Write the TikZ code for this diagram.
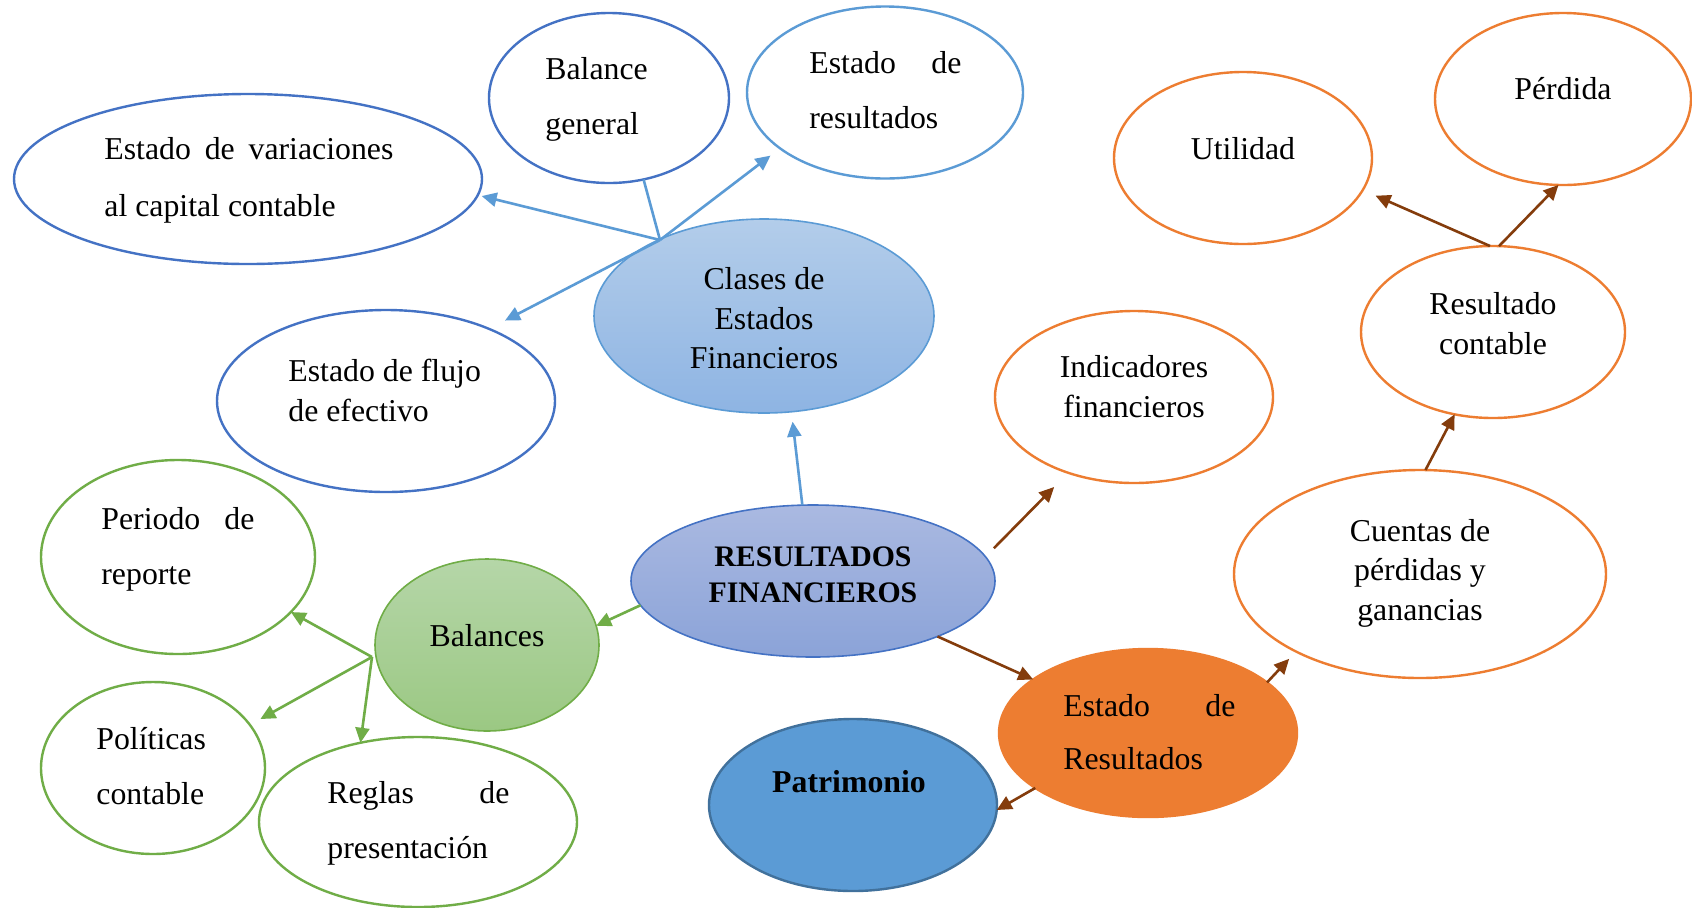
\documentclass[tikz,border=0pt]{standalone}
\usepackage{fontspec}
\setmainfont{Liberation Serif}
\usetikzlibrary{shapes.geometric,arrows.meta}
\definecolor{dblue}{HTML}{4472C4}
\definecolor{lblue}{HTML}{5B9BD5}
\definecolor{lgreen}{HTML}{70AD47}
\definecolor{orng}{HTML}{ED7D31}
\definecolor{brwn}{HTML}{843C0C}
\definecolor{pblue}{HTML}{41719C}
\definecolor{claT}{HTML}{B3CDEA}
\definecolor{claB}{HTML}{8EB4E3}
\definecolor{resT}{HTML}{AAB9E1}
\definecolor{resB}{HTML}{8BA3D8}
\definecolor{balT}{HTML}{B5D6A8}
\definecolor{balB}{HTML}{9BC883}
\begin{document}
\begin{tikzpicture}[x=0.5pt,y=-0.5pt,
 ov/.style={ellipse, inner sep=0, outer sep=0, line width=1.2pt},
 txt/.style={inner sep=0, font=\fontsize{15.9}{19}\selectfont, yshift=-3.3pt},
 btxt/.style={inner sep=0, font=\fontsize{15.9}{19}\selectfont\bfseries, yshift=-3.3pt},
 arr/.style={line width=1.3pt, -{Triangle[length=7.5pt,width=7pt]}},
]
\useasboundingbox (0,0) rectangle (1692,907);
\fill[white] (0,0) rectangle (1692,907);

% ellipses
\node[ov, draw=dblue, minimum width=234pt, minimum height=85pt] (var) at (248,179) {};
\node[ov, draw=dblue, minimum width=120pt, minimum height=85pt] (bal) at (609,98) {};
\node[ov, draw=lblue, minimum width=138pt, minimum height=86pt] (er1) at (885,92.5) {};
\node[ov, draw=lblue, line width=0.8pt, top color=claT, bottom color=claB, minimum width=170pt, minimum height=97pt] (cla) at (764,316) {};
\node[ov, draw=dblue, minimum width=169pt, minimum height=91pt] (flu) at (386,401) {};
\node[ov, draw=dblue, line width=0.8pt, top color=resT, bottom color=resB, minimum width=182pt, minimum height=76pt] (res) at (813,581) {};
\node[ov, draw=lgreen, line width=0.8pt, top color=balT, bottom color=balB, minimum width=112pt, minimum height=86pt] (bcs) at (487,645) {};
\node[ov, draw=lgreen, minimum width=137pt, minimum height=97pt] (per) at (178,557) {};
\node[ov, draw=lgreen, minimum width=112pt, minimum height=86pt] (pol) at (153,768) {};
\node[ov, draw=lgreen, minimum width=159pt, minimum height=85pt] (reg) at (418,822) {};
\node[ov, draw=pblue, fill=lblue, minimum width=144pt, minimum height=86pt] (pat) at (853,805) {};
\node[ov, draw=orng, fill=orng, minimum width=149pt, minimum height=84pt] (erb) at (1148,733) {};
\node[ov, draw=orng, minimum width=139pt, minimum height=86pt] (ind) at (1134,397) {};
\node[ov, draw=orng, minimum width=186pt, minimum height=104pt] (cue) at (1420,574) {};
\node[ov, draw=orng, minimum width=132pt, minimum height=86pt] (rc) at (1493,332) {};
\node[ov, draw=orng, minimum width=129pt, minimum height=86pt] (uti) at (1243,158) {};
\node[ov, draw=orng, minimum width=128pt, minimum height=86pt] (perd) at (1563,99) {};

% connectors
\coordinate (chub) at (660,240);
\draw[lblue, line width=1.3pt] (bal.-67) -- (chub);
\draw[arr, lblue, shorten >=2pt] (chub) -- (var.-4);
\draw[arr, lblue, shorten >=6pt] (chub) -- (er1.208);
\draw[arr, lblue, shorten >=9pt] (chub) -- (flu.35);
\draw[arr, lblue, shorten >=5pt] (res.98) -- (cla.-74);

\draw[arr, lgreen] (res.188) -- (bcs.10);
\coordinate (bhub) at (372,657);
\draw[arr, lgreen] (bhub) -- (per.-26);
\draw[arr, lgreen, shorten >=6pt] (bhub) -- (pol.24);
\draw[arr, lgreen] (bhub) -- (reg.126);

\draw[arr, brwn, shorten <=6pt, shorten >=10pt] (res.8) -- (ind.-131);
\draw[arr, brwn] (res.-24) -- (erb.155.5);
\draw[arr, brwn] (erb.206) -- (pat.-2);
\draw[arr, brwn, shorten >=5pt] (erb.23) -- (cue.212);
\draw[arr, brwn] (cue.87) -- (rc.-115);
\draw[arr, brwn, shorten >=7pt] (rc.92) -- (uti.-15);
\draw[arr, brwn] (rc.86) -- (perd.-93);

% texts
\node[txt, anchor=mid west] (t1) at (104,148) {\hbox to 144.5pt{Estado\hfill de\hfill variaciones}};
\node[txt, anchor=mid west] (t2) at (104,205) {al capital contable};
\node[txt, anchor=mid west] (t3) at (545,68) {Balance};
\node[txt, anchor=mid west] (t4) at (545,123) {general};
\node[txt, anchor=mid west] (t5) at (809,62) {\hbox to 76pt{Estado\hfill de}};
\node[txt, anchor=mid west] (t6) at (809,117) {resultados};
\node[txt, anchor=mid] (t7) at (764,278) {Clases de};
\node[txt, anchor=mid] (t8) at (764,318) {Estados};
\node[txt, anchor=mid] (t9) at (764,357) {Financieros};
\node[txt, anchor=mid west] (t10) at (288,370) {Estado de flujo};
\node[txt, anchor=mid west] (t11) at (288,410) {de efectivo};
\node[btxt, anchor=mid, font=\fontsize{14.9}{18}\selectfont\bfseries] (t12) at (813,555) {RESULTADOS};
\node[btxt, anchor=mid, font=\fontsize{14.9}{18}\selectfont\bfseries] (t13) at (813,591) {FINANCIEROS};
\node[txt, anchor=mid] (t14) at (487,635) {Balances};
\node[txt, anchor=mid west] (t15) at (101,518) {\hbox to 76.5pt{Periodo\hfill de}};
\node[txt, anchor=mid west] (t16) at (101,573) {reporte};
\node[txt, anchor=mid west] (t17) at (96,738) {Políticas};
\node[txt, anchor=mid west] (t18) at (96,793) {contable};
\node[txt, anchor=mid west] (t19) at (327,792) {\hbox to 91pt{Reglas\hfill de}};
\node[txt, anchor=mid west] (t20) at (327,847) {presentación};
\node[btxt, anchor=mid] (t21) at (849,781) {Patrimonio};
\node[txt, anchor=mid west] (t22) at (1063,705) {\hbox to 86pt{Estado\hfill de}};
\node[txt, anchor=mid west] (t23) at (1063,758) {Resultados};
\node[txt, anchor=mid] (t24) at (1134,366) {Indicadores};
\node[txt, anchor=mid] (t25) at (1134,406) {financieros};
\node[txt, anchor=mid] (t26) at (1420,530) {Cuentas de};
\node[txt, anchor=mid] (t27) at (1420,569) {pérdidas y};
\node[txt, anchor=mid] (t28) at (1420,609) {ganancias};
\node[txt, anchor=mid] (t29) at (1493,303) {Resultado};
\node[txt, anchor=mid] (t30) at (1493,343) {contable};
\node[txt, anchor=mid] (t31) at (1243,148) {Utilidad};
\node[txt, anchor=mid] (t32) at (1563,88) {Pérdida};
\end{tikzpicture}
\end{document}
